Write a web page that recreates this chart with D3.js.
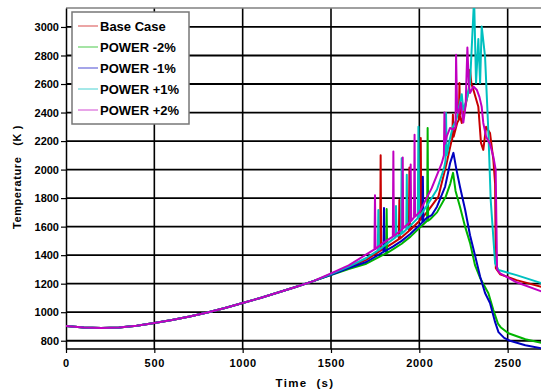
<!DOCTYPE html>
<html>
<head>
<meta charset="utf-8">
<script src="https://cdn.jsdelivr.net/npm/d3@7"></script>
<style>
  body { margin: 0; background: #fff; }
  text { font-family: "Liberation Sans", Arial, sans-serif; font-weight: bold; }
</style>
</head>
<body>
<div id="chart"></div>
<script>
// Temperature vs time for the base case and four power variations
const xTicks = [0, 500, 1000, 1500, 2000, 2500];
const yTicks = [800, 1000, 1200, 1400, 1600, 1800, 2000, 2200, 2400, 2600, 2800, 3000];

// shared heat-up part, [time s, temperature K]
const commonStart = [[0, 903], [100, 892], [200, 889], [300, 893], [400, 905], [500, 924], [600, 945],
  [700, 970], [800, 998], [900, 1030], [1000, 1064], [1100, 1100], [1200, 1138], [1300, 1177], [1400, 1218]];

const baseCase = [[1500, 1265], [1600, 1316], [1700, 1367], [1778, 1430], [1781, 2100], [1784, 1433],
  [1850, 1485], [1884, 1512], [1887, 1787], [1890, 1515], [1941, 1570], [1944, 2015], [1947, 1575],
  [2000, 1640], [2005, 1647], [2008, 2222], [2011, 1652], [2050, 1712], [2108, 1811], [2155, 2047],
  [2180, 2190], [2186, 2210], [2190, 2385], [2194, 2230], [2215, 2330], [2224, 2350], [2227, 2607],
  [2230, 2380], [2240, 2327], [2268, 2490], [2280, 2560], [2287, 2700], [2295, 2600], [2306, 2560],
  [2334, 2440], [2349, 2187], [2362, 2138], [2378, 2300], [2400, 2257], [2419, 2068], [2429, 1900],
  [2433, 1308], [2457, 1266], [2550, 1225], [2700, 1175]];

const powerM2 = [[1500, 1260], [1600, 1303], [1700, 1340], [1800, 1405], [1812, 1413], [1815, 1723],
  [1818, 1415], [1850, 1440], [1900, 1480], [1950, 1530], [2000, 1590], [2040, 1636], [2044, 1640],
  [2047, 2292], [2050, 1642], [2060, 1650], [2100, 1700], [2150, 1812], [2175, 1900], [2191, 1977],
  [2205, 1850], [2230, 1740], [2259, 1600], [2287, 1486], [2315, 1330], [2344, 1240], [2370, 1180],
  [2391, 1133], [2419, 1015], [2445, 920], [2460, 895], [2504, 852], [2600, 810], [2700, 783]];

const powerM1 = [[1500, 1262], [1600, 1310], [1700, 1352], [1797, 1423], [1800, 1731], [1803, 1426],
  [1850, 1460], [1900, 1500], [1950, 1550], [2000, 1610], [2017, 1630], [2020, 1950], [2023, 1635],
  [2040, 1660], [2070, 1680], [2100, 1740], [2146, 1881], [2174, 2045], [2193, 2117], [2210, 2000],
  [2230, 1880], [2259, 1720], [2287, 1540], [2315, 1400], [2344, 1250], [2372, 1135], [2400, 1065],
  [2429, 930], [2448, 860], [2480, 820], [2513, 800], [2600, 768], [2700, 745]];

const powerP1 = [[1500, 1268], [1600, 1320], [1700, 1380], [1765, 1432], [1768, 1716], [1771, 1436],
  [1800, 1465], [1865, 1525], [1868, 1745], [1871, 1530], [1897, 1548], [1900, 2080], [1903, 1552],
  [1926, 1580], [1929, 1963], [1932, 1585], [1991, 1660], [1995, 2300], [1999, 1668], [2050, 1760],
  [2100, 1860], [2140, 2010], [2148, 2060], [2151, 2397], [2155, 2100], [2170, 2200], [2190, 2300],
  [2210, 2350], [2240, 2529], [2249, 2420], [2268, 2490], [2287, 2607], [2310, 3200], [2321, 2607],
  [2334, 2916], [2344, 2607], [2353, 3004], [2372, 2793], [2391, 2257], [2404, 1787], [2429, 1343],
  [2448, 1296], [2550, 1260], [2700, 1200]];

const powerP2 = [[1500, 1272], [1600, 1328], [1700, 1405], [1746, 1440], [1749, 1820], [1752, 1444],
  [1800, 1490], [1850, 1530], [1853, 2127], [1856, 1535], [1903, 1582], [1906, 2085], [1909, 1588],
  [1948, 1635], [1951, 2035], [1954, 1640], [1970, 1665], [1973, 2244], [1976, 1670], [2000, 1700],
  [2070, 1870], [2127, 2045], [2139, 2100], [2142, 2400], [2145, 2180], [2155, 2232], [2174, 2292],
  [2193, 2280], [2205, 2300], [2208, 2805], [2214, 2420], [2221, 2397], [2235, 2470], [2249, 2330],
  [2262, 2450], [2272, 2856], [2280, 2600], [2287, 2537], [2306, 2583], [2325, 2560], [2340, 2510],
  [2353, 2440], [2362, 2327], [2378, 2230], [2400, 2180], [2419, 2090], [2432, 2000], [2440, 1300],
  [2457, 1273], [2550, 1210], [2700, 1142]];

const seriesNames = ["Base Case", "POWER -2%", "POWER -1%", "POWER +1%", "POWER +2%"];
const seriesColors = ["#c80000", "#00b400", "#0000c0", "#00c0c0", "#c000c0"];
const seriesData = [baseCase, powerM2, powerM1, powerP1, powerP2];

const W = 541, H = 391;
const plotLeft = 66, plotTop = 8, plotBottom = 349;

const svg = d3.select("#chart").append("svg")
    .attr("width", W)
    .attr("height", H);

const x = d3.scaleLinear().domain([0, 2700]).range([plotLeft, 543]);
const y = d3.scaleLinear().domain([742, 3133]).range([plotBottom, plotTop]);

// grid
svg.append("g").selectAll("line")
    .data(xTicks.slice(1))
    .enter().append("line")
    .attr("x1", d => x(d)).attr("x2", d => x(d))
    .attr("y1", plotTop).attr("y2", plotBottom)
    .attr("stroke", "#000").attr("stroke-width", 1.6);

svg.append("g").selectAll("line")
    .data(yTicks)
    .enter().append("line")
    .attr("x1", plotLeft).attr("x2", W)
    .attr("y1", d => y(d)).attr("y2", d => y(d))
    .attr("stroke", "#000").attr("stroke-width", 1.8);

// top border
svg.append("line")
    .attr("x1", plotLeft).attr("x2", W)
    .attr("y1", plotTop).attr("y2", plotTop)
    .attr("stroke", "#808080").attr("stroke-width", 1.5);

// axes
const yAxis = svg.append("g")
    .attr("transform", `translate(${plotLeft},0)`)
    .call(d3.axisLeft(y).tickValues(yTicks).tickFormat(d3.format("d"))
        .tickSize(5).tickPadding(2).tickSizeOuter(0));
const xAxis = svg.append("g")
    .attr("transform", `translate(0,${plotBottom})`)
    .call(d3.axisBottom(x).tickValues(xTicks).tickFormat(d3.format("d"))
        .tickSize(4).tickPadding(6).tickSizeOuter(0));

[xAxis, yAxis].forEach(a => {
    a.select(".domain").attr("stroke", "#000").attr("stroke-width", 1.5);
    a.selectAll(".tick line").attr("stroke", "#000").attr("stroke-width", 1.2);
    a.selectAll("text").attr("fill", "#000")
        .style("font-size", "11px").style("font-weight", "bold")
        .style("font-family", "'Liberation Sans', Arial, sans-serif");
});
xAxis.select(".domain").attr("d", `M${plotLeft},0H${W}`);
xAxis.selectAll("text").style("letter-spacing", "0.7px");

// axis titles
svg.append("text")
    .attr("x", 305).attr("y", 387)
    .attr("text-anchor", "middle")
    .style("font-size", "11.5px")
    .style("letter-spacing", "1.3px")
    .style("white-space", "pre")
    .text("Time  (s)");

svg.append("text")
    .attr("transform", "translate(21,177) rotate(-90)")
    .attr("text-anchor", "middle")
    .style("font-size", "11px")
    .style("letter-spacing", "0.6px")
    .style("white-space", "pre")
    .text("Temperature   (K )");

// lines
svg.append("defs").append("clipPath")
    .attr("id", "clip")
    .append("rect")
    .attr("x", plotLeft).attr("y", plotTop)
    .attr("width", W - plotLeft).attr("height", plotBottom - plotTop);

const line = d3.line()
    .x(d => x(d[0]))
    .y(d => y(d[1]));

seriesData.forEach((s, i) => {
    svg.append("path")
        .datum(commonStart.concat(s))
        .attr("fill", "none")
        .attr("stroke", seriesColors[i])
        .attr("stroke-width", 2)
        .attr("stroke-linejoin", "round")
        .attr("d", line)
        .attr("clip-path", "url(#clip)");
});

// legend
const legend = svg.append("g");
legend.append("rect")
    .attr("x", 72).attr("y", 12)
    .attr("width", 117).attr("height", 112)
    .attr("fill", "#fff")
    .attr("stroke", "#777").attr("stroke-width", 1.5);

seriesNames.forEach((name, i) => {
    const ly = 26 + i * 21;
    legend.append("line")
        .attr("x1", 78).attr("x2", 98)
        .attr("y1", ly).attr("y2", ly)
        .attr("stroke", seriesColors[i]).attr("stroke-width", 1)
        .attr("opacity", 0.7);
    legend.append("text")
        .attr("x", 100).attr("y", ly + 5)
        .style("font-size", "13px")
        .text(name);
});
</script>
</body>
</html>
